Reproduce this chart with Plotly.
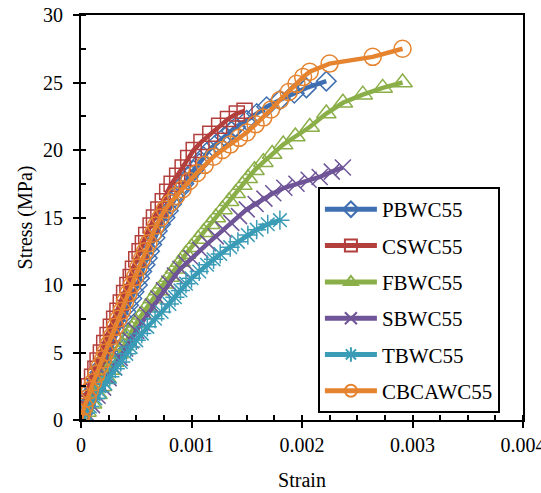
import plotly.graph_objects as go

# Stress-strain readings for each concrete mix (strain, stress in MPa)
pbwc55_strain = [0, 0.00002, 0.00004, 0.00006, 0.00009, 0.00011, 0.00014, 0.00017, 0.00019, 0.00022,
                 0.00025, 0.00028, 0.0003, 0.00033, 0.00035, 0.00038, 0.00041, 0.00043, 0.00046, 0.00048,
                 0.00051, 0.00053, 0.00055, 0.00058, 0.0006, 0.00062, 0.00064, 0.00067, 0.00069, 0.00072,
                 0.00076, 0.00079, 0.00082, 0.00085, 0.00089, 0.00093, 0.00097, 0.00102, 0.00107, 0.00111,
                 0.00116, 0.00123, 0.0013, 0.00136, 0.0014, 0.0015, 0.00159, 0.00168, 0.0018, 0.00193,
                 0.00204, 0.00222]
pbwc55_stress = [0, 0.5, 1.0, 1.5, 2.0, 2.5, 3.0, 3.5, 4.0, 4.5,
                 5.0, 5.5, 6.0, 6.5, 7.0, 7.5, 8.0, 8.5, 9.0, 9.5,
                 10.0, 10.5, 11.0, 11.5, 12.0, 12.5, 13.0, 13.5, 14.0, 14.5,
                 15.0, 15.5, 16.0, 16.5, 17.0, 17.5, 18.0, 18.5, 19.0, 19.5,
                 20.0, 20.5, 21.0, 21.4, 21.7, 22.2, 22.7, 23.2, 23.7, 24.2,
                 24.6, 25.1]

cswc55_strain = [0, 0.00001, 0.00003, 0.00005, 0.00007, 0.0001, 0.00013, 0.00015, 0.00018, 0.00021,
                 0.00024, 0.00027, 0.0003, 0.00033, 0.00036, 0.00039, 0.00042, 0.00045, 0.00047, 0.0005,
                 0.00053, 0.00056, 0.00059, 0.00063, 0.00066, 0.0007, 0.00074, 0.00078, 0.00082, 0.00087,
                 0.00092, 0.00097, 0.00102, 0.00109, 0.00117, 0.00125, 0.00133, 0.00141, 0.00148]
cswc55_stress = [0, 0.6, 1.2, 1.9, 2.5, 3.2, 3.8, 4.4, 5.0, 5.7,
                 6.3, 6.9, 7.5, 8.1, 8.7, 9.4, 10.0, 10.6, 11.2, 11.9,
                 12.5, 13.1, 13.7, 14.4, 15.0, 15.6, 16.2, 16.9, 17.5, 18.1,
                 18.7, 19.4, 20.0, 20.6, 21.2, 21.8, 22.3, 22.7, 22.9]

fbwc55_strain = [0, 0.00005, 0.0001, 0.00015, 0.00019, 0.00023, 0.00026, 0.0003, 0.00034, 0.00038,
                 0.00042, 0.00046, 0.0005, 0.00055, 0.0006, 0.00065, 0.0007, 0.00075, 0.0008, 0.00085,
                 0.0009, 0.00095, 0.001, 0.00106, 0.00111, 0.00117, 0.00122, 0.00128, 0.00134, 0.0014,
                 0.00146, 0.00151, 0.00157, 0.00165, 0.00173, 0.00183, 0.00194, 0.00207, 0.00222, 0.00237,
                 0.00255, 0.00273, 0.00291]
fbwc55_stress = [0, 0.6, 1.2, 1.9, 2.5, 3.1, 3.7, 4.3, 4.9, 5.5,
                 6.1, 6.7, 7.2, 7.8, 8.4, 9.0, 9.6, 10.1, 10.6, 11.2,
                 11.7, 12.3, 12.8, 13.4, 13.9, 14.5, 15.0, 15.6, 16.2, 16.8,
                 17.4, 17.9, 18.5, 19.1, 19.7, 20.4, 21.0, 21.7, 22.7, 23.5,
                 24.1, 24.6, 25.0]

sbwc55_strain = [0, 0.00005, 0.0001, 0.00015, 0.0002, 0.00025, 0.0003, 0.00035, 0.0004, 0.00045,
                 0.0005, 0.00055, 0.0006, 0.00065, 0.0007, 0.00075, 0.0008, 0.00085, 0.0009, 0.00095,
                 0.001, 0.00108, 0.00115, 0.00122, 0.00129, 0.00136, 0.00143, 0.0015, 0.00158, 0.00166,
                 0.00174, 0.00184, 0.00195, 0.00206, 0.00216, 0.00227, 0.00237]
sbwc55_stress = [0, 0.5, 1.1, 1.8, 2.4, 3.1, 3.9, 4.6, 5.3, 5.9,
                 6.6, 7.2, 7.8, 8.4, 9.0, 9.6, 10.1, 10.7, 11.2, 11.6,
                 12.0, 12.6, 13.1, 13.6, 14.1, 14.6, 15.1, 15.6, 16.0, 16.4,
                 16.8, 17.2, 17.5, 17.8, 18.0, 18.4, 18.7]

tbwc55_strain = [0, 0.00004, 0.00008, 0.00013, 0.00017, 0.00022, 0.00026, 0.00031, 0.00036, 0.00041,
                 0.00045, 0.0005, 0.00055, 0.0006, 0.00067, 0.00073, 0.0008, 0.00085, 0.0009, 0.00095,
                 0.001, 0.00107, 0.00114, 0.0012, 0.00126, 0.00135, 0.00142, 0.00151, 0.00159, 0.00169,
                 0.0018]
tbwc55_stress = [0, 0.5, 1.0, 1.6, 2.1, 2.7, 3.2, 3.8, 4.3, 4.9,
                 5.4, 5.9, 6.4, 6.9, 7.5, 8.0, 8.6, 9.1, 9.6, 10.1,
                 10.5, 11.0, 11.5, 11.9, 12.3, 12.8, 13.2, 13.7, 14.1, 14.5,
                 14.8]

cbcawc55_strain = [0, 0.00001, 0.00003, 0.00006, 0.00008, 0.00011, 0.00014, 0.00017, 0.0002, 0.00022,
                   0.00025, 0.00028, 0.00031, 0.00034, 0.00037, 0.0004, 0.00043, 0.00046, 0.00049, 0.00052,
                   0.00055, 0.00058, 0.00061, 0.00065, 0.00068, 0.00072, 0.00076, 0.00081, 0.00086, 0.00092,
                   0.00098, 0.00105, 0.00112, 0.0012, 0.00128, 0.00135, 0.00143, 0.0015, 0.00158, 0.00165,
                   0.00172, 0.0018, 0.00188, 0.00195, 0.00201, 0.00207, 0.00225, 0.00264, 0.00291]
cbcawc55_stress = [0, 0.5, 1.0, 1.6, 2.2, 2.8, 3.4, 4.0, 4.5, 5.0,
                   5.6, 6.2, 6.9, 7.5, 8.1, 8.8, 9.4, 10.0, 10.6, 11.3,
                   11.9, 12.5, 13.1, 13.8, 14.4, 15.0, 15.6, 16.1, 16.6, 17.1,
                   17.7, 18.3, 18.9, 19.5, 20.0, 20.4, 20.9, 21.3, 21.9, 22.4,
                   23.0, 23.7, 24.3, 24.9, 25.4, 25.8, 26.4, 26.9, 27.5]

x_ticks = [0, 0.001, 0.002, 0.003, 0.004]
x_tick_labels = ["0", "0.001", "0.002", "0.003", "0.004"]
y_ticks = [0, 5, 10, 15, 20, 25, 30]

series = [
    ("PBWC55", pbwc55_strain, pbwc55_stress, "#3F6FB0", "diamond-open", 15),
    ("CSWC55", cswc55_strain, cswc55_stress, "#B33F3C", "square-open", 15),
    ("FBWC55", fbwc55_strain, fbwc55_stress, "#8AAF48", "triangle-up-open", 17),
    ("SBWC55", sbwc55_strain, sbwc55_stress, "#6F5597", "x-thin-open", 16),
    ("TBWC55", tbwc55_strain, tbwc55_stress, "#3A9CB6", "asterisk-open", 16),
    ("CBCAWC55", cbcawc55_strain, cbcawc55_stress, "#E5832F", "circle-open", 17),
]

FONT = "Liberation Serif, DejaVu Serif, serif"

fig = go.Figure()
for name, xs, ys, color, symbol, size in series:
    fig.add_trace(go.Scatter(
        x=xs, y=ys, name=name, mode="lines+markers", legendgroup=name,
        line=dict(color=color, width=4.5),
        marker=dict(symbol=symbol, size=size, color=color, line=dict(color=color, width=1.5)),
    ))

axis_common = dict(
    showgrid=False, zeroline=False, showline=True, linecolor="black", linewidth=2,
    mirror=True, ticks="outside", ticklen=6, tickwidth=2, tickcolor="black",
    tickfont=dict(family=FONT, size=20, color="black"), automargin=False,
)

fig.update_xaxes(
    range=[0, 0.004], tickvals=x_ticks, ticktext=x_tick_labels,
    minor=dict(dtick=0.00025, ticks="inside", ticklen=5, tickwidth=1.5, tickcolor="black"),
    ticklabeloverflow="allow",
    title=dict(text="Strain", font=dict(family=FONT, size=20, color="black"), standoff=18),
    **axis_common,
)
fig.update_yaxes(
    range=[0, 30], tickvals=y_ticks,
    minor=dict(dtick=2.5, ticks="inside", ticklen=5, tickwidth=1.5, tickcolor="black"),
    ticklabelstandoff=6,
    title=dict(text="Stress (MPa)", font=dict(family=FONT, size=20, color="black"), standoff=5),
    **axis_common,
)

fig.update_layout(
    width=541, height=493,
    margin=dict(l=81, r=18, t=15, b=73),
    paper_bgcolor="white", plot_bgcolor="white",
    font=dict(family=FONT, size=20, color="black"),
    legend=dict(
        x=0.536, y=0.575, xanchor="left", yanchor="top",
        bgcolor="white", bordercolor="black", borderwidth=2,
        font=dict(family=FONT, size=21, color="black"),
        itemsizing="constant", tracegroupgap=6, itemwidth=52,
    ),
    showlegend=True,
)

fig.write_html("out.html")
